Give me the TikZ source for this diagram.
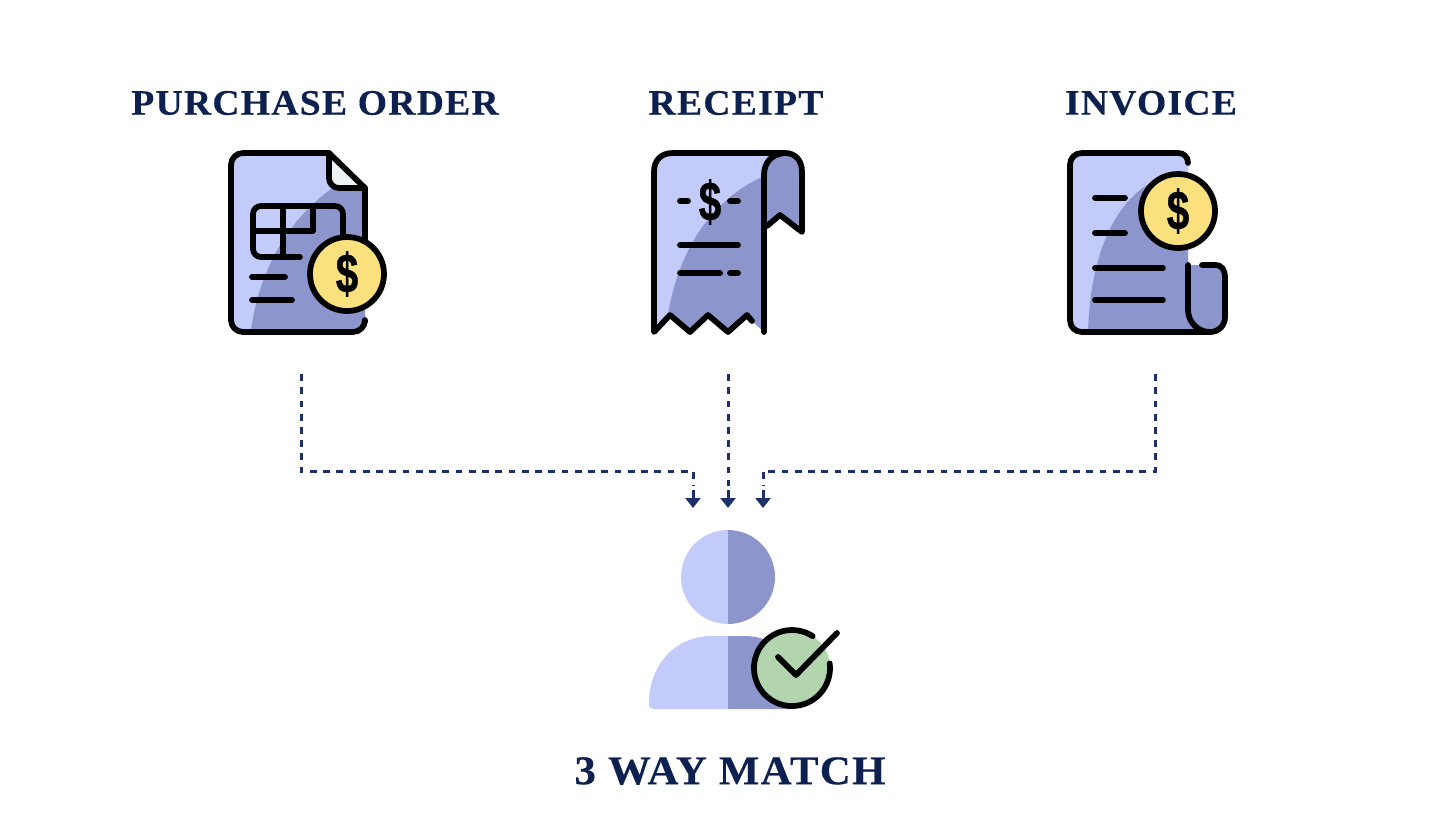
\documentclass[tikz,border=0pt]{standalone}
\usepackage{graphicx}
\usepackage{fontspec}
\setmainfont{Liberation Serif}
\newfontfamily\titlefont[LetterSpace=3.5,FakeStretch=1.05,FakeBold=0.4]{Liberation Serif Bold}
\newfontfamily\dollarfont[FakeBold=1]{Liberation Sans Bold}
\usetikzlibrary{arrows.meta}
\definecolor{navy}{HTML}{0D2150}
\definecolor{linkblue}{HTML}{1F2F69}
\definecolor{paperfill}{HTML}{C3CBFA}
\definecolor{darkfill}{HTML}{8C96CC}
\definecolor{cornerfill}{HTML}{EEF2F6}
\definecolor{gold}{HTML}{FBE07E}
\definecolor{okgreen}{HTML}{B2D5AE}
\tikzset{
  title/.style={font=\titlefont\fontsize{20.4}{24}\selectfont, text=navy, inner sep=0pt},
  bigtitle/.style={title, font=\titlefont\fontsize{23.2}{26}\selectfont},
  ink/.style={draw=black, line width=0.115cm, line cap=round, line join=round},
  link/.style={draw=linkblue, line width=0.06cm, dash pattern=on 0.135cm off 0.13cm},
  tip/.style={-{Triangle[width=0.3cm,length=0.2cm]}, draw=linkblue, line width=0.06cm},
  dollar/.style={font=\dollarfont\fontsize{28}{30}\selectfont, inner sep=0pt},
}
\newcommand{\dollarsign}{\scalebox{0.82}[1.12]{\$}}
\begin{document}
\begin{tikzpicture}[x=0.02cm,y=-0.02cm]
\useasboundingbox (0,0) rectangle (1456,819);
% Titles
\node[title] (po) at (315,103) {PURCHASE ORDER};
\node[title] (receipt) at (736,103) {RECEIPT};
\node[title] (invoice) at (1151,103) {INVOICE};
\node[bigtitle] (match) at (730,771) {3 WAY MATCH};
% Purchase order sheet
\def\posheet{(231,153) -- (329,153) -- (365,188) -- (365,332) -- (231,332) -- cycle}
\fill[paperfill, rounded corners=0.2cm] \posheet;
\begin{scope}
\clip[rounded corners=0.2cm] \posheet;
\fill[darkfill] (250,340) .. controls (255,280) and (285,215) .. (345,180) -- (380,180) -- (380,340) -- cycle;
\end{scope}
\fill[cornerfill] (329,153) -- (329,178) -- (338,188) -- (365,188) -- cycle;
\draw[ink, rounded corners=0.24cm] (365,322) -- (365,332) -- (231,332) -- (231,153) -- (329,153);
\draw[ink] (329,153) -- (365,188) -- (365,240);
\draw[ink, rounded corners=0.2cm] (329,153) -- (329,188) -- (365,188);
% Table on the sheet
\draw[ink, rounded corners=0.16cm] (300,257) -- (253,257) -- (253,206) -- (343,206) -- (343,240);
\draw[ink] (283,206) -- (283,257);
\draw[ink] (253,231) -- (313,231) -- (313,206);
\draw[ink] (252,277) -- (285,277);
\draw[ink] (252,300) -- (292,300);
% Purchase order coin
\draw[ink, fill=gold] (347,274) circle (37);
\node[dollar] (podollar) at (347,274) {\dollarsign};
% Receipt strip
\def\strip{(654,332) -- (654,153) -- (790,153) -- (790,200) -- (764,200) -- (764,332) -- (752,321) -- (747,315) -- (728,332) -- (708,315) -- (690,332) -- (670,315) -- cycle}
\fill[paperfill] (669,153) -- (785,153) -- (785,200) -- (764,200) -- (764,332) -- (747,315) -- (728,332) -- (708,315) -- (690,332) -- (670,315) -- (654,332) -- (654,168) .. controls (654,158) and (660,153) .. (669,153) -- cycle;
\begin{scope}
\clip \strip;
\fill[darkfill] (665,340) .. controls (670,270) and (700,205) .. (764,176) -- (764,340) -- cycle;
\end{scope}
% Receipt flap
\fill[darkfill] (764,175) .. controls (764,160) and (775,153) .. (785,153) .. controls (795,153) and (802,160) .. (802,172) -- (802,232) -- (780,215) -- (764,228) -- cycle;
\draw[ink] (752,321) -- (747,315) -- (728,332) -- (708,315) -- (690,332) -- (670,315) -- (654,332) -- (654,172);
\draw[ink] (654,172) .. controls (654,160) and (661,153) .. (673,153) -- (785,153) .. controls (795,153) and (802,160) .. (802,172) -- (802,232) -- (780,215) -- (767,226);
\draw[ink] (764,332) -- (764,175) .. controls (764,162) and (772,154) .. (785,153);
% Receipt marks
\node[dollar] (rcdollar) at (710,202) {\dollarsign};
\draw[ink] (680,201) -- (688,201);
\draw[ink] (730,201) -- (738,201);
\draw[ink] (680,245) -- (738,245);
\draw[ink] (680,273) -- (720,273);
\draw[ink] (730,273) -- (738,273);
% Invoice sheet
\def\invsheet{(1070,153) -- (1188,153) -- (1188,332) -- (1070,332) -- cycle}
\fill[paperfill, rounded corners=0.24cm] \invsheet;
\begin{scope}
\clip[rounded corners=0.24cm] \invsheet;
\fill[darkfill] (1088,340) .. controls (1088,260) and (1115,175) .. (1190,172) -- (1190,340) -- cycle;
\end{scope}
\fill[darkfill] (1188,265) -- (1215,265) .. controls (1222,265) and (1225,270) .. (1225,277) -- (1225,317) .. controls (1225,326) and (1218,332) .. (1210,332) -- (1170,332) .. controls (1180,332) and (1188,322) .. (1188,310) -- cycle;
\draw[ink] (1188,163) .. controls (1188,157) and (1184,153) .. (1178,153) -- (1082,153) .. controls (1075,153) and (1070,158) .. (1070,165) -- (1070,320) .. controls (1070,327) and (1075,332) .. (1082,332) -- (1210,332) .. controls (1218,332) and (1225,326) .. (1225,317) -- (1225,277) .. controls (1225,270) and (1222,265) .. (1215,265) -- (1202,265);
\draw[ink] (1188,265) -- (1188,310) .. controls (1188,322) and (1198,332) .. (1210,332);
% Invoice marks
\draw[ink] (1095,198) -- (1125,198);
\draw[ink] (1095,233) -- (1125,233);
\draw[ink] (1095,268) -- (1163,268);
\draw[ink] (1095,300) -- (1163,300);
% Invoice coin
\draw[ink, fill=gold] (1178,211) circle (37);
\node[dollar] (invdollar) at (1178,211) {\dollarsign};
% Dashed links
\coordinate (poout) at (301,374);
\coordinate (rcout) at (728,374);
\coordinate (invout) at (1155,374);
\coordinate (inleft) at (693,508);
\coordinate (inmid) at (728,508);
\coordinate (inright) at (763,508);
\draw[link] (poout) |- (693,471) -- (693,486);
\draw[link] (rcout) -- (728,486);
\draw[link] (invout) |- (763,471) -- (763,486);
\draw[tip] (693,490) -- (inleft);
\draw[tip] (728,490) -- (inmid);
\draw[tip] (763,490) -- (inright);
% Person
\fill[paperfill] (728,530) arc (-90:-270:47) -- cycle;
\fill[darkfill] (728,530) arc (-90:90:47) -- cycle;
\fill[paperfill] (728,636) -- (712,636) .. controls (675,636) and (649,665) .. (649,703) .. controls (649,707) and (651,709) .. (654,709) -- (728,709) -- cycle;
\fill[darkfill] (728,636) -- (744,636) .. controls (765,636) and (785,645) .. (795,670) -- (790,709) -- (728,709) -- cycle;
% Check badge
\fill[okgreen] (792,668) circle (38);
\draw[ink] (829.7,663.4) arc (-7:303:38);
\draw[ink] (778,657) -- (796,675) -- (837,633);
\end{tikzpicture}
\end{document}
